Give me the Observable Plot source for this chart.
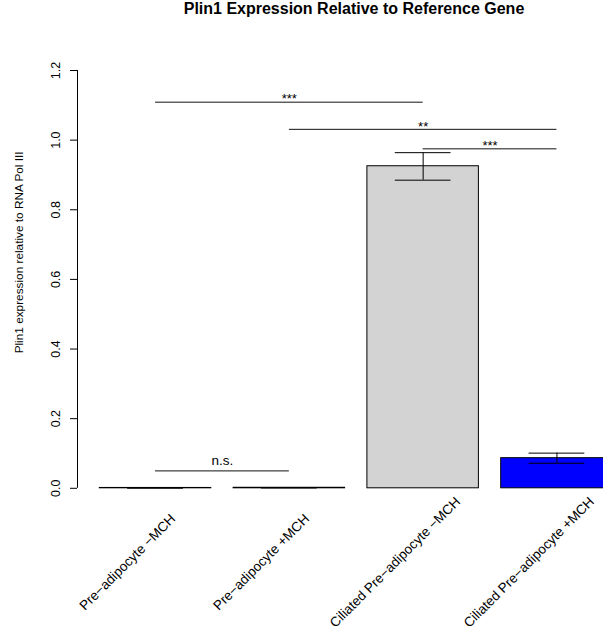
<!DOCTYPE html>
<html>
<head>
<meta charset="utf-8">
<script src="https://cdn.jsdelivr.net/npm/d3@7"></script>
<script src="https://cdn.jsdelivr.net/npm/@observablehq/plot@0.6"></script>
<style>
  html, body { margin: 0; padding: 0; background: #fff; overflow: hidden; }
  #title { height: 38px; line-height: 38px; width: 603px; box-sizing: border-box; padding-left: 105px;
    text-align: center; font: bold 16px "Liberation Sans", Arial, sans-serif; color: #000; }
</style>
</head>
<body>
<div id="title">Plin1 Expression Relative to Reference Gene</div>
<div id="chart"></div>
<script>
// ---- data ----
const categories = ["Pre−adipocyte −MCH", "Pre−adipocyte +MCH", "Ciliated Pre−adipocyte −MCH", "Ciliated Pre−adipocyte +MCH"];
const means = [0.001, 0.0015, 0.925, 0.0865];
const lower = [0.0005, 0.001, 0.885, 0.072];
const upper = [0.0015, 0.002, 0.964, 0.101];
const sigFrom = [0, 1, 2, 0];
const sigTo = [2, 3, 3, 1];
const sigHeight = [1.109, 1.031, 0.975, 0.050];
const sigLabel = ["***", "**", "***", "n.s."];
const yTicks = [0, 0.2, 0.4, 0.6, 0.8, 1.0, 1.2];
const yLabel = "Plin1 expression relative to RNA Pol III";

// ---- styles ----
const barFill = ["#d3d3d3", "#0000ff", "#d3d3d3", "#0000ff"];
const font = '"Liberation Sans", Arial, Helvetica, sans-serif';

// R barplot geometry: width 1, space 0.2
const left = i => 0.2 + 1.2 * i;
const center = i => left(i) + 0.5;

const bars = categories.map((c, i) => ({
  cat: c, i, mean: means[i], lo: lower[i], hi: upper[i], fill: barFill[i]
}));
const sig = sigLabel.map((s, k) => ({label: s, from: sigFrom[k], to: sigTo[k], h: sigHeight[k]}));

const W = 603, H = 593;
const chart = Plot.plot({
  width: W,
  height: H,
  marginLeft: 77,
  marginRight: 0,
  marginTop: 32,
  marginBottom: H - 449.8,
  style: {fontFamily: font, fontSize: "12px", background: "#fff", color: "#000"},
  x: {type: "linear", domain: [0, 4.96], range: [77, 77 + 4.96 * 111.5], axis: null},
  y: {domain: [0, 1.2], range: [449.8, 32], axis: null},
  color: {type: "identity"},
  marks: [
    Plot.rectY(bars, {x1: d => left(d.i), x2: d => left(d.i) + 1, y1: 0, y2: "mean",
      fill: "fill", stroke: "#000", strokeWidth: 1}),
    // error bars
    Plot.ruleX(bars, {x: d => center(d.i), y1: "lo", y2: "hi", stroke: "#000", strokeWidth: 1}),
    Plot.ruleY(bars, {y: "hi", x1: d => center(d.i) - 0.25, x2: d => center(d.i) + 0.25, stroke: "#000", strokeWidth: 1}),
    Plot.ruleY(bars, {y: "lo", x1: d => center(d.i) - 0.25, x2: d => center(d.i) + 0.25, stroke: "#000", strokeWidth: 1}),
    // significance brackets
    Plot.ruleY(sig, {y: "h", x1: d => center(d.from), x2: d => center(d.to), stroke: "#111", strokeWidth: 1}),
    Plot.text(sig.filter(d => d.label !== "n.s."), {x: d => (center(d.from) + center(d.to)) / 2, y: "h", text: "label",
      dy: -3, fontSize: 13, fill: "#000"}),
    Plot.text(sig.filter(d => d.label === "n.s."), {x: d => (center(d.from) + center(d.to)) / 2, y: "h", text: "label",
      dy: -10, fontSize: 13.5, fill: "#000"}),
    // y axis
    Plot.ruleX([0], {y1: yTicks[0], y2: yTicks[yTicks.length - 1], stroke: "#000", strokeWidth: 1}),
    Plot.axisY(yTicks, {anchor: "left", tickSize: 7, tickPadding: 15, tickRotate: -90,
      textAnchor: "middle", lineAnchor: "middle", tickFormat: d => d.toFixed(1), fontSize: 12.5, stroke: "#000", fill: "#000"}),
    Plot.text([yLabel], {frameAnchor: "left", dx: 18.3 - 77, dy: -27, rotate: -90, textAnchor: "middle",
      lineAnchor: "middle", fontSize: 11.8, fill: "#000"}),
    // category labels
    Plot.text(bars, {x: d => center(d.i), frameAnchor: "bottom", dx: -28, dy: 74, rotate: -45,
      textAnchor: "middle", lineAnchor: "middle", text: "cat", fontSize: 13.5, fill: "#000"})
  ]
});
document.getElementById("chart").appendChild(chart);
</script>
</body>
</html>
